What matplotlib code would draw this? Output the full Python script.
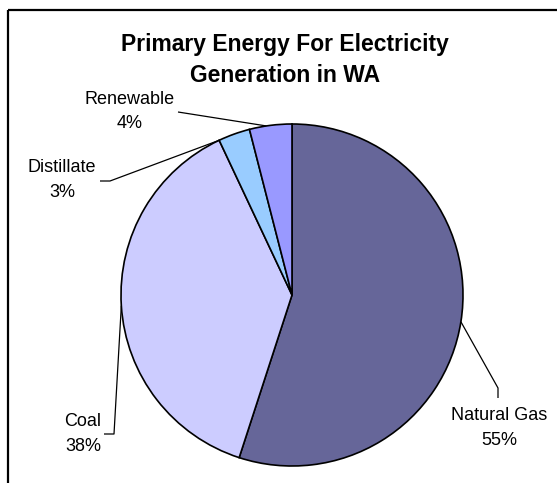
import numpy as np
import matplotlib
matplotlib.use("Agg")
import matplotlib.pyplot as plt

plt.rcParams['font.family'] = ['Liberation Sans', 'DejaVu Sans']

# Share of primary energy used for electricity generation (%)
categories = ["Natural Gas", "Coal", "Distillate", "Renewable"]
shares = [55, 38, 3, 4]
colors = ["#666699", "#CCCCFF", "#99CCFF", "#9999FF"]

W, H = 557, 483
fig = plt.figure(figsize=(W / 100, H / 100), dpi=100)
ax = fig.add_axes([0, 0, 1, 1])

cx, cy, r = 292, H - 295, 171
wedges, _ = ax.pie(shares, colors=colors, startangle=90, counterclock=False,
                   center=(cx, cy), radius=r,
                   wedgeprops=dict(edgecolor="black", linewidth=1.2))

ax.set_xlim(0, W)
ax.set_ylim(0, H)
ax.set_aspect("equal")
ax.axis("off")

# label text centres and leader-line paths (label end -> elbow), pixel coords (y down)
label_pos = {
    "Natural Gas": (499, 428),
    "Coal": (83, 434),
    "Distillate": (62, 180),
    "Renewable": (130, 111.5),
}
leader = {
    "Natural Gas": [(498, 398), (498, 388)],
    "Coal": [(104, 434), (114, 434)],
    "Distillate": [(100, 181), (110, 181)],
    "Renewable": [(178, 112)],
}
anchor_frac = {"Natural Gas": 0.5, "Coal": 0.5, "Distillate": 1.0, "Renewable": 0.6}

for w, name, val in zip(wedges, categories, shares):
    t1, t2 = sorted([w.theta1, w.theta2])
    ang = np.deg2rad(t1 + anchor_frac[name] * (t2 - t1))
    ax_pt = (cx + r * np.cos(ang), cy + r * np.sin(ang))
    pts = [(x, H - y) for x, y in leader[name]] + [ax_pt]
    xs, ys = zip(*pts)
    ax.plot(xs, ys, color="black", lw=0.9, solid_capstyle="butt")
    lx, ly = label_pos[name]
    ax.text(lx, H - ly, f"{name}\n{val}%", ha="center", va="center",
            fontsize=13, linespacing=1.6, color="black")

ax.text(285, H - 60, "Primary Energy For Electricity\nGeneration in WA",
        ha="center", va="center", fontsize=16.5, fontweight="bold",
        linespacing=1.5)

# chart-area border (left and top edges)
ax.plot([8, 8], [0, H - 9.5], color="black", lw=1.6, solid_capstyle="butt")
ax.plot([8, W], [H - 9.5, H - 9.5], color="black", lw=1.6, solid_capstyle="butt")

fig.savefig("out.png", dpi=100)
